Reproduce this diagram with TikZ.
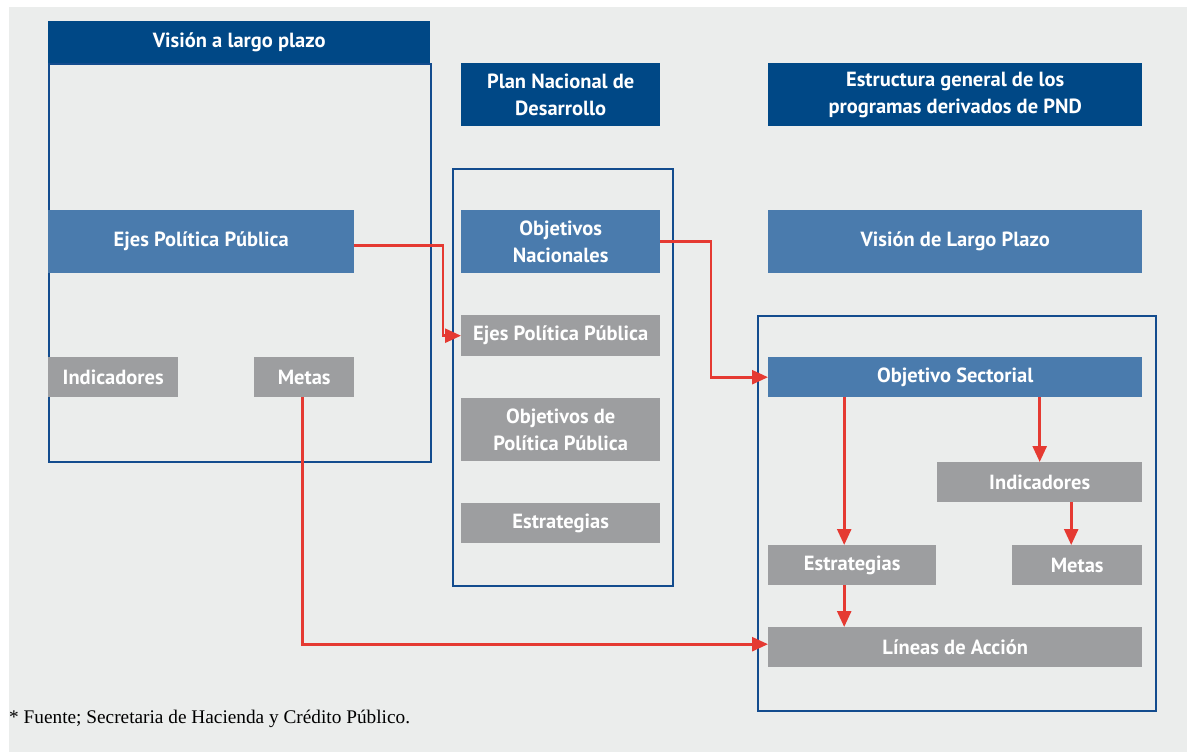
\documentclass[tikz,border=0pt]{standalone}
\usepackage{fontspec}
\setmainfont{PT Sans}
\newfontfamily\notafont{Liberation Serif}
\usetikzlibrary{arrows.meta}
\definecolor{fondo}{HTML}{EBEDEC}
\definecolor{azuloscuro}{HTML}{004886}
\definecolor{azulmedio}{HTML}{4A7BAD}
\definecolor{azulmarco}{HTML}{134C8E}
\definecolor{grisclaro}{HTML}{9D9EA0}
\definecolor{rojo}{HTML}{E53A32}

\begin{document}
\begin{tikzpicture}[
	x=1pt, y=-1pt,
	caja/.style={anchor=north west, inner sep=0pt, text=white, align=center,
		font=\fontsize{20.5}{27}\selectfont\bfseries},
	oscuro/.style={caja, fill=azuloscuro},
	azul/.style={caja, fill=azulmedio},
	gris/.style={caja, fill=grisclaro},
	marco/.style={anchor=north west, inner sep=0pt, draw=azulmarco, line width=2.2pt},
	flecha/.style={draw=rojo, line width=2.6pt, -{Triangle[length=16pt,width=14pt]}}
	]
	\useasboundingbox (0,0) rectangle (1187,752);
	\fill[fondo] (9,7) rectangle (1187,752);

	% vision a largo plazo
	\node[marco, minimum width=382pt, minimum height=398pt] (visionM) at (48,63) {};
	\node[oscuro, minimum width=382pt, minimum height=42pt] (visionT) at (48,21) {Visión a largo plazo};
	\node[azul, minimum width=306pt, minimum height=63pt] (ejesA) at (48,210) {Ejes Política Pública};
	\node[gris, minimum width=130pt, minimum height=40pt] (indicL) at (48,357) {Indicadores};
	\node[gris, minimum width=100pt, minimum height=40pt] (metasL) at (254,357) {Metas};

	% plan nacional
	\node[oscuro, minimum width=199pt, minimum height=63pt] (pnd) at (461,63) {Plan Nacional de\\Desarrollo};
	\node[marco, minimum width=220pt, minimum height=417pt] (pndM) at (452,168) {};
	\node[azul, minimum width=199pt, minimum height=63pt] (objNac) at (461,210) {Objetivos\\Nacionales};
	\node[gris, minimum width=199pt, minimum height=41pt] (ejesB) at (461,315) {Ejes Política Pública};
	\node[gris, minimum width=199pt, minimum height=63pt] (objPP) at (461,398) {Objetivos de\\Política Pública};
	\node[gris, minimum width=199pt, minimum height=40pt] (estrB) at (461,503) {Estrategias};

	% programas derivados
	\node[oscuro, minimum width=374pt, minimum height=63pt] (estruc) at (768,63) {Estructura general de los\\programas derivados de PND};
	\node[azul, minimum width=374pt, minimum height=63pt] (visionR) at (768,210) {Visión de Largo Plazo};
	\node[marco, minimum width=398pt, minimum height=395pt] (estrucM) at (757,315) {};
	\node[azul, minimum width=374pt, minimum height=40pt] (objSec) at (768,357) {Objetivo Sectorial};
	\node[gris, minimum width=205pt, minimum height=40pt] (indicR) at (937,462) {Indicadores};
	\node[gris, minimum width=168pt, minimum height=40pt] (estrR) at (768,545) {Estrategias};
	\node[gris, minimum width=130pt, minimum height=40pt] (metasR) at (1012,545) {Metas};
	\node[gris, minimum width=374pt, minimum height=40pt] (lineas) at (768,627) {Líneas de Acción};

	% flechas
	\draw[flecha] ([yshift=-4pt]ejesA.east) -| ([xshift=-18pt]ejesB.west) -- (ejesB.west);
	\draw[flecha] (objNac.east) -| ([xshift=-57pt]objSec.west) -- (objSec.west);
	\draw[flecha] ([xshift=-8pt]estrR.north |- objSec.south) -- ([xshift=-8pt]estrR.north);
	\draw[flecha] (indicR.north |- objSec.south) -- (indicR.north);
	\draw[flecha] ([xshift=-6pt]metasR.north |- indicR.south) -- ([xshift=-6pt]metasR.north);
	\draw[flecha] ([xshift=-8pt]estrR.south) -- ([xshift=-8pt]estrR.south |- lineas.north);
	\draw[flecha] ([xshift=-2pt]metasL.south) |- ([yshift=3pt]lineas.west);

	\node[anchor=base west, inner sep=0pt, font=\notafont\fontsize{19.3}{22}\selectfont] (nota) at (9,723)
		{* Fuente; Secretaria de Hacienda y Crédito Público.};
\end{tikzpicture}
\end{document}
